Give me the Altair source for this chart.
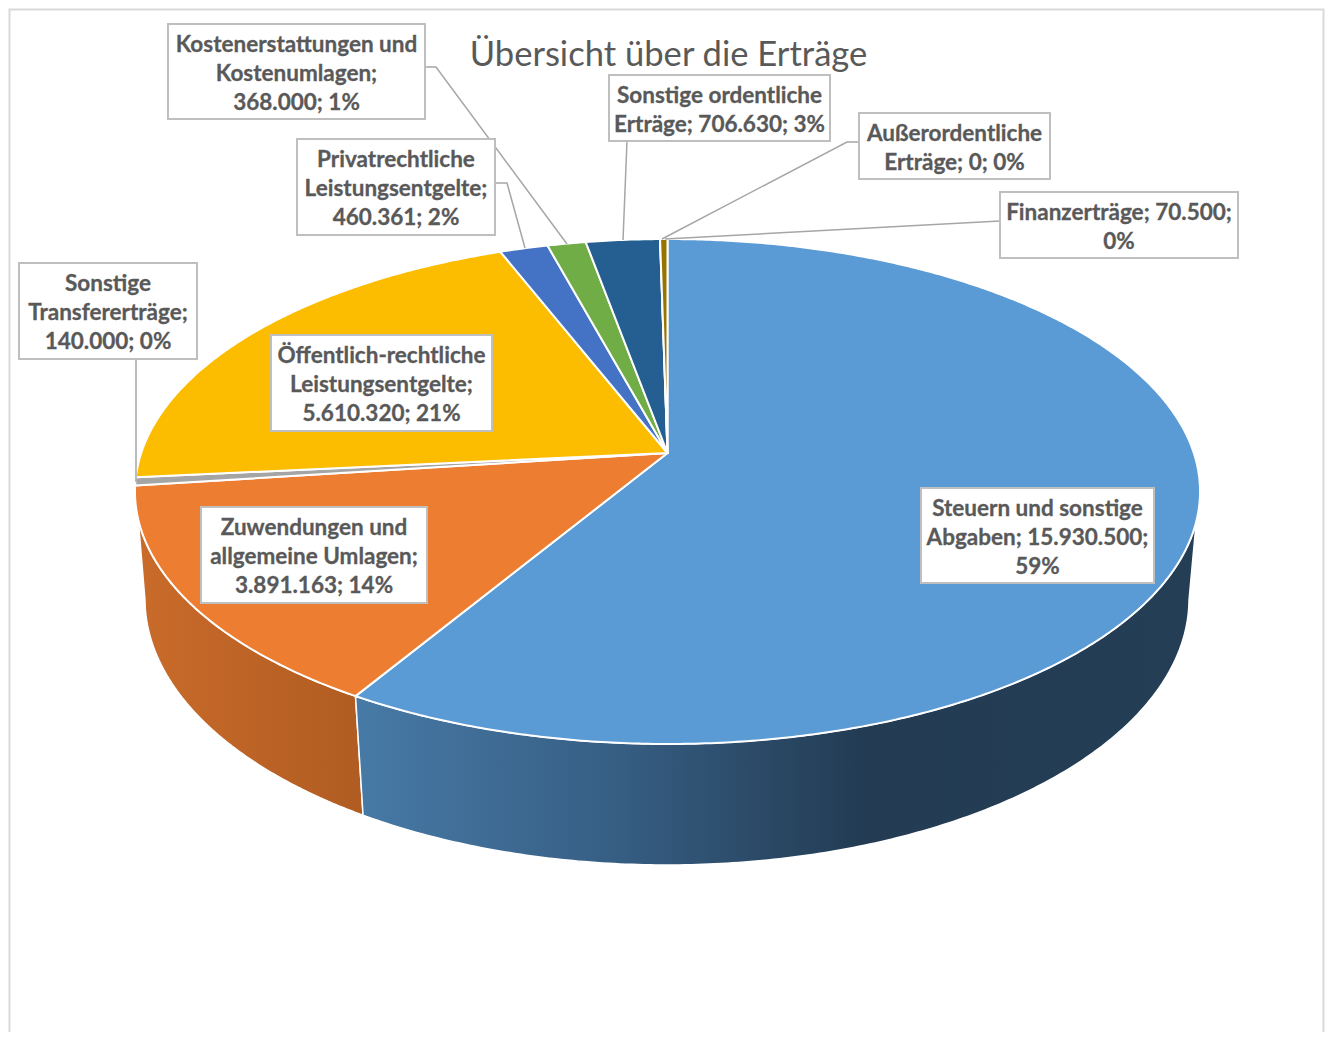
import numpy as np
import altair as alt

# ---- data ----
categories = ["Steuern und sonstige Abgaben", "Zuwendungen und allgemeine Umlagen",
              "Sonstige Transfererträge", "Öffentlich-rechtliche Leistungsentgelte",
              "Privatrechtliche Leistungsentgelte", "Kostenerstattungen und Kostenumlagen",
              "Sonstige ordentliche Erträge", "Außerordentliche Erträge", "Finanzerträge"]
values = [15930500, 3891163, 140000, 5610320, 460361, 368000, 706630, 0, 70500]
top_colors = ["#5b9bd5", "#ed7d31", "#a5a5a5", "#fcbd00", "#4472c4", "#70ad47", "#255e91", "#9e480e", "#997300"]

title_text = "Übersicht über die Erträge"
label_lines = [
    "Steuern und sonstige\nAbgaben; 15.930.500;\n59%",
    "Zuwendungen und\nallgemeine Umlagen;\n3.891.163; 14%",
    "Sonstige\nTransfererträge;\n140.000; 0%",
    "Öffentlich-rechtliche\nLeistungsentgelte;\n5.610.320; 21%",
    "Privatrechtliche\nLeistungsentgelte;\n460.361; 2%",
    "Kostenerstattungen und\nKostenumlagen;\n368.000; 1%",
    "Sonstige ordentliche\nErträge; 706.630; 3%",
    "Außerordentliche\nErträge; 0; 0%",
    "Finanzerträge; 70.500;\n0%",
]
# label boxes: left, top, right, bottom (page pixels)
label_boxes = [
    (921, 488, 1154, 583), (201, 507, 427, 603), (19, 263, 197, 359),
    (271, 335, 492, 431), (297, 139, 495, 235), (168, 24, 425, 119),
    (609, 75, 830, 141), (859, 113, 1050, 179), (1000, 192, 1238, 258),
]
leaders = [
    [(136, 359), (136, 482)],
    [(495, 183), (507, 183), (525, 248)],
    [(425, 67), (436, 67), (567, 244)],
    [(627, 141), (623, 240)],
    [(859, 142), (847, 142), (662, 239)],
    [(1000, 221), (665, 239)],
]
frame = [(9.5, 1041), (9.5, 9.5), (1323.5, 9.5), (1323.5, 1041)]

# perspective of the disc: cx, half-width term, apex y, height term, perspective
TOP = (667.5, 526.3, 453.0, 246.6, 0.1525)
BOTTOM = (667.0, 516.5, 560.4, 260.4, 0.145)
# silhouette angles (degrees) where the side wall leaves the top and bottom outlines
RIGHT_SIL = (105.5, 98.6)
LEFT_SIL = (255.0, 261.4)


def project(theta, view):
    cx, r, y0, s, p = view
    u, v = np.sin(theta), np.cos(theta)
    w = 1 + p * v
    return np.column_stack([cx + r * u / w, y0 - s * v / w])


total = sum(values)
edges = 2 * np.pi * np.concatenate([[0], np.cumsum(values)]) / total


def feature(name, geom_type, coords):
    return {"type": "Feature", "properties": {"name": name},
            "geometry": {"type": geom_type, "coordinates": coords}}


faces = []
for name, a, b in zip(categories, edges[:-1], edges[1:]):
    th = np.linspace(a, b, max(3, int((b - a) * 120)))
    arc = project(th, TOP)
    apex = [[TOP[0], TOP[2]]]
    faces.append(feature(name, "Polygon", [apex + arc.tolist() + apex]))


def wall(name, top_a, top_b, low_a, low_b):
    top = project(np.linspace(top_a, top_b, 200), TOP)
    low = project(np.linspace(low_a, low_b, 200), BOTTOM)
    ring = top.tolist() + low[::-1].tolist()
    return feature(name, "Polygon", [ring + ring[:1]])


blue_wall = wall(categories[0], np.radians(RIGHT_SIL[0]), edges[1], np.radians(RIGHT_SIL[1]), edges[1])
orange_wall = wall(categories[1], edges[1], np.radians(LEFT_SIL[0]), edges[1], np.radians(LEFT_SIL[1]))

boxes = []
for name, (l, t, r, b) in zip(categories, label_boxes):
    boxes.append(feature(name, "Polygon", [[[l, t], [r, t], [r, b], [l, b], [l, t]]]))
leader_feats = [feature("leader", "LineString", [list(p) for p in pts]) for pts in leaders]
frame_feat = [feature("frame", "LineString", [list(p) for p in frame])]

LINE = 29
text_rows = [{"t": t, "lon": (b[0] + b[2]) / 2,
              "lat": (b[1] + b[3]) / 2 + 2 - t.count("\n") * LINE / 2}
             for t, b in zip(label_lines, label_boxes)]
title_rows = [{"t": title_text, "lon": 668.5, "lat": 56}]

color_scale = alt.Scale(domain=categories, range=top_colors)

FONT = "Lato"
TEXT = "#595959"

blue_grad = alt.Gradient(gradient="linear", x1=0, x2=1, y1=0, y2=0, stops=[
    alt.GradientStop(color="#477aa6", offset=0),
    alt.GradientStop(color="#375f85", offset=0.3),
    alt.GradientStop(color="#233c54", offset=0.6),
    alt.GradientStop(color="#243e55", offset=1)])
orange_grad = alt.Gradient(gradient="linear", x1=0, x2=1, y1=0, y2=0, stops=[
    alt.GradientStop(color="#c96b2a", offset=0),
    alt.GradientStop(color="#b05c22", offset=1)])

layers = [
    alt.Chart(alt.Data(values=frame_feat)).mark_geoshape(filled=False, stroke="#d9d9d9", strokeWidth=2),
    alt.Chart(alt.Data(values=[orange_wall])).mark_geoshape(fill=orange_grad, stroke="white", strokeWidth=1.5),
    alt.Chart(alt.Data(values=[blue_wall])).mark_geoshape(fill=blue_grad, stroke="white", strokeWidth=1.5),
    alt.Chart(alt.Data(values=faces)).mark_geoshape(stroke="white", strokeWidth=2, strokeJoin="round").encode(
        color=alt.Color("properties.name:N", scale=color_scale, legend=None)),
    alt.Chart(alt.Data(values=leader_feats)).mark_geoshape(filled=False, stroke="#a6a6a6", strokeWidth=1.5),
    alt.Chart(alt.Data(values=boxes)).mark_geoshape(fill="white", stroke="#bfbfbf", strokeWidth=2),
    alt.Chart(alt.Data(values=text_rows)).mark_text(
        font=FONT, fontSize=22.5, fontWeight="bold", color=TEXT, align="center",
        baseline="middle", lineBreak="\n", lineHeight=LINE, stroke=TEXT, strokeWidth=0.3).encode(
        longitude="lon:Q", latitude="lat:Q", text="t:N"),
    alt.Chart(alt.Data(values=title_rows)).mark_text(
        font=FONT, fontSize=34.6, color=TEXT, align="center", baseline="middle").encode(
        longitude="lon:Q", latitude="lat:Q", text="t:N"),
]

chart = alt.layer(*layers).project(
    type="identity", scale=1, translate=[-8, -8]
).properties(width=1317, height=1024, padding=0, background="white"
).configure_view(stroke=None)

chart.save("out.html", embed_options={"renderer": "svg", "actions": False})
